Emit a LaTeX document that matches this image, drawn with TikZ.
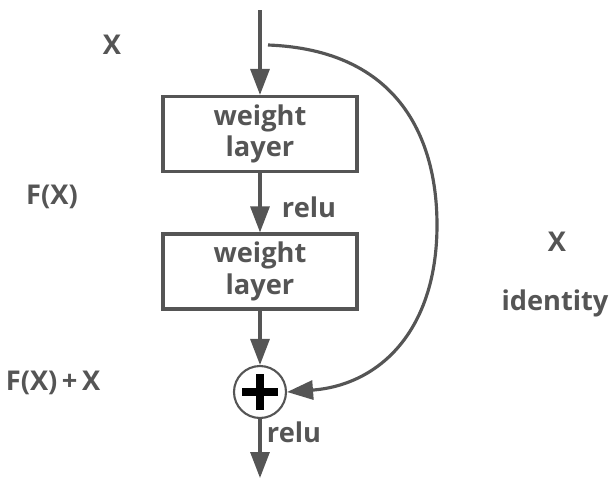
\documentclass[tikz,border=0pt]{standalone}
\usepackage{fontspec}
\setmainfont{Open Sans}
\usetikzlibrary{arrows.meta}
\definecolor{ink}{HTML}{555555}
\begin{document}
\begin{tikzpicture}[x=0.02cm,y=-0.02cm,
  line/.style={draw=ink,line width=1.8pt},
  arr/.style={line,-{Triangle[length=0.52cm,width=0.38cm]}},
  layer/.style={draw=ink,line width=1.8pt,minimum width=3.88cm,minimum height=1.5cm,align=center,font=\fontsize{15.5}{18}\selectfont\bfseries,text=ink,inner sep=0pt},
  lbl/.style={font=\fontsize{15.5}{18}\selectfont\bfseries,text=ink,inner sep=0pt}]
\useasboundingbox (0,0) rectangle (613,478);
\coordinate (top) at (260,10);
\coordinate (out) at (260,478);
\coordinate (split) at (268,45);
\node[layer] (w1) at (260,134) {weight\\layer};
\node[layer] (w2) at (260,271.5) {weight\\layer};
\node[draw=ink,line width=1.2pt,circle,minimum size=1.04cm,inner sep=0pt] (add) at (260,392) {};
\fill[black] ([xshift=-0.36cm,yshift=-0.08cm]add.center) rectangle ([xshift=0.36cm,yshift=0.08cm]add.center);
\fill[black] ([xshift=-0.08cm,yshift=-0.36cm]add.center) rectangle ([xshift=0.08cm,yshift=0.36cm]add.center);
\draw[arr] (top) -- (w1.north);
\draw[arr] (w1.south) -- (w2.north);
\draw[arr] (w2.south) -- (add.north);
\draw[arr] (add.south) -- (out);
\draw[arr] (split) .. controls (400,50) and (437,140) .. (437,225) .. controls (437,330) and (380,385) .. (add.east);
\node[lbl] (x1) at (112,45) {X};
\node[lbl] (fx) at (52,197) {F(X)};
\node[lbl] (fxx) at (53,383) {F(X)\,+\,X};
\node[lbl] (r1) at (309,207) {relu};
\node[lbl] (r2) at (294,432) {relu};
\node[lbl] (x2) at (557,242) {X};
\node[lbl] (id) at (555,303) {identity};
\end{tikzpicture}
\end{document}
